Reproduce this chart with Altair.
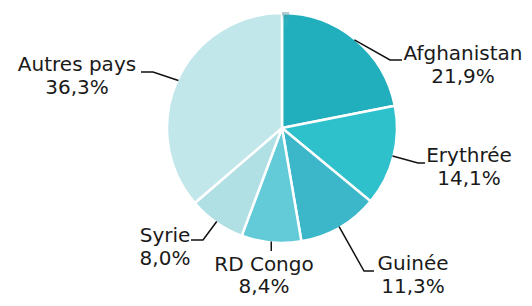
import math
import altair as alt
import pandas as pd

# ---- data ----
countries = ["Afghanistan", "Erythrée", "Guinée", "RD Congo", "Syrie", "Autres pays"]
shares = [21.9, 14.1, 11.3, 8.4, 8.0, 36.3]
share_labels = ["21,9%", "14,1%", "11,3%", "8,4%", "8,0%", "36,3%"]
colors = ["#22AFBD", "#2EC0CB", "#3BB7C9", "#62CBD7", "#B0DFE4", "#C2E7EB"]

# ---- layout (page pixels; view starts at 8px margin) ----
OFF = 8
CX, CY, R = 282 - OFF, 128 - OFF, 115
label_cx = [463, 469, 413, 264, 165, 77]
label_base = [60, 162, 270, 271, 242, 71]
line_gap = [23, 23, 23, 22, 23, 23]
lead_end = [(402, 60), (425, 163), (374, 271), (None, 251), (191, 240), (141, 72)]
lead_elbow_dx = [-12, -7, -10, 0, 12, 12]
FONT = "DejaVu Sans"
FS = 20

pie_df = pd.DataFrame({"pays": countries, "part": shares, "idx": list(range(len(countries)))})

# leader lines computed from slice mid-angles
total = sum(shares)
rows = []
cum = 0.0
for i, (c, s) in enumerate(zip(countries, shares)):
    mid = (cum + s / 2) / total * 2 * math.pi
    cum += s
    ex = CX + (R - 1) * math.sin(mid)
    ey = CY - (R - 1) * math.cos(mid)
    endx, endy = lead_end[i]
    endy -= OFF
    endx = ex if endx is None else endx - OFF
    pts = [(ex, ey)]
    if lead_elbow_dx[i] != 0:
        pts.append((endx + lead_elbow_dx[i], endy))
    pts.append((endx, endy))
    for k, (px, py) in enumerate(pts):
        rows.append({"pays": c, "k": k, "x": px, "y": py})
lead_df = pd.DataFrame(rows)

text_rows = []
for i, c in enumerate(countries):
    text_rows.append({"t": c, "x": label_cx[i] - OFF, "y": label_base[i] - OFF})
    text_rows.append({"t": share_labels[i], "x": label_cx[i] - OFF,
                      "y": label_base[i] + line_gap[i] - OFF})
text_df = pd.DataFrame(text_rows)

pie = alt.Chart(pie_df).mark_arc(radius=R, stroke="white", strokeWidth=2.5).encode(
    theta=alt.Theta("part:Q", stack=True),
    order=alt.Order("idx:Q"),
    color=alt.Color("pays:N", scale=alt.Scale(domain=countries, range=colors), legend=None),
    x=alt.value(CX),
    y=alt.value(CY),
)

rim = alt.Chart(pd.DataFrame({"v": [1]})).mark_arc(
    radius=R + 1, radius2=R - 2, color="#8EB8BD", opacity=0.75
).encode(theta=alt.Theta("v:Q"), x=alt.value(CX), y=alt.value(CY))

shade = alt.Chart(pd.DataFrame({"v": [1]})).mark_arc(
    radius=R - 2,
    color=alt.Gradient(
        gradient="radial",
        stops=[
            alt.GradientStop(offset=0, color="rgba(255,255,255,0)"),
            alt.GradientStop(offset=0.8, color="rgba(255,255,255,0)"),
            alt.GradientStop(offset=1, color="rgba(60,100,110,0.18)"),
        ],
    ),
).encode(theta=alt.Theta("v:Q"), x=alt.value(CX), y=alt.value(CY))

leaders = alt.Chart(lead_df).mark_line(color="#111111", strokeWidth=1.5).encode(
    x=alt.X("x:Q", scale=None),
    y=alt.Y("y:Q", scale=None),
    detail="pays:N",
    order="k:Q",
)

labels = alt.Chart(text_df).mark_text(
    font=FONT, fontSize=FS, color="#1a1a1a", align="center", baseline="alphabetic"
).encode(
    x=alt.X("x:Q", scale=None),
    y=alt.Y("y:Q", scale=None),
    text="t:N",
)

chart = alt.layer(pie, shade, rim, leaders, labels).properties(
    width=516, height=290, padding=0, autosize=alt.AutoSizeParams(type="none")
).configure(background="white").configure_view(stroke=None, strokeWidth=0)

chart.save("out.html", embed_options={"renderer": "svg", "actions": False})
